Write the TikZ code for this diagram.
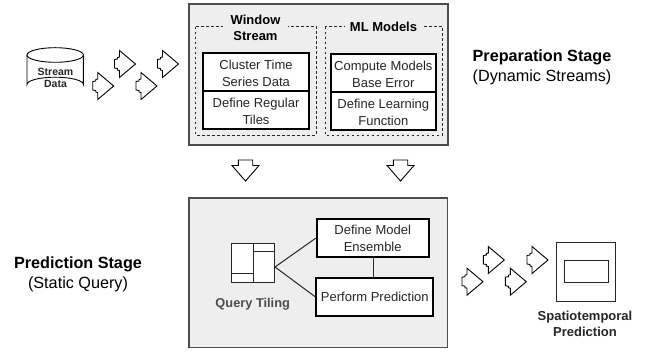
\documentclass[tikz,border=0pt]{standalone}
\usepackage{fontspec}
\setmainfont{Liberation Sans}
\definecolor{panelfill}{HTML}{EEEEEE}
\definecolor{panelline}{HTML}{4D4D4D}
\tikzset{
  x=1pt,y=-1pt,
  panel/.style={draw=panelline,line width=1.6pt,fill=panelfill},
  dashbox/.style={draw=black!85,line width=0.9pt,dash pattern=on 2.6pt off 2.4pt},
  task/.style={draw=black,line width=2pt,fill=white},
  boxtext/.style={font=\fontsize{13}{17}\selectfont,align=center,text=black!85,inner sep=0pt},
  headtext/.style={font=\bfseries\fontsize{13}{16}\selectfont,align=center,inner sep=0pt},
  smalltext/.style={font=\bfseries\fontsize{10.5}{12.6}\selectfont,align=center,inner sep=0pt,text=black!85},
  stagetext/.style={font=\fontsize{16.2}{20.5}\selectfont,align=center,inner sep=0pt},
  thinbox/.style={draw=black!85,line width=0.9pt},
  link/.style={line width=1pt,draw=black!85},
  flowarrow/.pic={\draw[line width=0.9pt,line join=miter,fill=white]
     (-16,-13.5)--(0,0)--(-16,13.5)--(-16,6.5)--(-18,6)--(-18,4.5)--(-21,4)--(-21,-4.5)--(-18,-5)--(-18,-6.5)--(-16,-7)--cycle;},
  downarrow/.pic={\draw[line width=0.9pt,fill=white]
     (-7.2,-21)--(7.2,-21)--(7.2,-15.5)--(13.5,-15.5)--(0,0)--(-13.5,-15.5)--(-7.2,-15.5)--cycle;}
}
\begin{document}
\begin{tikzpicture}
\useasboundingbox (0,0) rectangle (652,352);
% cylinder
\draw[line width=0.9pt,fill=white] (27,55)--(27,84.5) arc[start angle=180,end angle=360,x radius=28.2,y radius=7.3]--(83.4,55);
\draw[line width=0.9pt,fill=white] (55.2,55) ellipse[x radius=28.2,y radius=7.3];
\node[smalltext] (stream) at (55.5,78) {Stream\\Data};
% input arrows
\pic at (113.7,86) {flowarrow};
\pic at (135.5,64) {flowarrow};
\pic at (157,86) {flowarrow};
\pic at (178.5,64) {flowarrow};
% top panel
\draw[panel] (189,4) rectangle (448,145);
\draw[dashbox] (195.7,26.7) rectangle (316.3,135);
\draw[dashbox] (325,26.7) rectangle (442.7,135);
\node[headtext,fill=panelfill,inner xsep=8pt] (win) at (255.5,27.7) {Window\\Stream};
\node[headtext,fill=panelfill,inner xsep=4.5pt] (ml) at (383.5,26.7) {ML Models};
\draw[task] (203.3,52.7) rectangle (309.3,90.7);
\draw[task] (203.3,90.7) rectangle (309.3,129.3);
\node[boxtext] (c1) at (256,73.3) {Cluster Time\\Series Data};
\node[boxtext] (c2) at (256,111.7) {Define Regular\\Tiles};
\draw[task] (330.7,54) rectangle (436,92.3);
\draw[task] (330.7,92.3) rectangle (436,130);
\node[boxtext] (m1) at (383.3,74) {Compute Models\\Base Error};
\node[boxtext] (m2) at (383.3,112.3) {Define Learning\\Function};
\node[stagetext] (prep) at (542,67.5) {\textbf{Preparation Stage}\\(Dynamic Streams)};
% down arrows
\pic at (245.5,181) {downarrow};
\pic at (400.5,181) {downarrow};
% bottom panel
\draw[panel] (189,198.3) rectangle (447.3,347.3);
\node[stagetext] (pred) at (78,274.5) {\textbf{Prediction Stage}\\(Static Query)};
\node[draw=black!85,line width=1pt,fill=white,minimum width=43.3pt,minimum height=39.4pt,inner sep=0pt] (tiles) at (253.3,263) {};
\draw[link] (253,243.3)--(253,282.7) (231.7,273.7)--(253,273.7) (253,252)--(275,252);
\coordinate (hub) at (275,267);
\node[font=\bfseries\fontsize{12.8}{15}\selectfont,text=black!70,inner sep=0pt] (qt) at (252.7,304) {Query Tiling};
\node[task,boxtext,draw=black,minimum width=112pt,minimum height=38.3pt] (ens) at (372.7,238.2) {Define Model\\Ensemble};
\node[task,boxtext,draw=black,line width=2.2pt,minimum width=117pt,minimum height=38.3pt] (perf) at (374.8,296.8) {Perform Prediction};
\draw[link] (ens.south -| 373,0)--(perf.north -| 373,0);
\draw[link] (hub)--(ens.west);
\draw[link] (hub)--(perf.west);
% output arrows
\pic at (483,281.7) {flowarrow};
\pic at (504.3,260) {flowarrow};
\pic at (526.3,281.7) {flowarrow};
\pic at (548,260) {flowarrow};
\node[thinbox,fill=white,minimum width=59pt,minimum height=59pt,inner sep=0pt] (out) at (586.2,272.2) {};
\foreach \g/\o in {4/3,3/2,2/1}{\draw[black!\g,line width=\o*2pt] (565,262) rectangle (608,283);}
\node[thinbox,fill=white,minimum width=44.7pt,minimum height=22.3pt,inner sep=0pt] (outin) at (586.3,271.2) {};
\node[font=\bfseries\fontsize{13}{16.3}\selectfont,align=center,inner sep=0pt,text=black!85] (st) at (585,324) {Spatiotemporal\\Prediction};
\end{tikzpicture}
\end{document}
